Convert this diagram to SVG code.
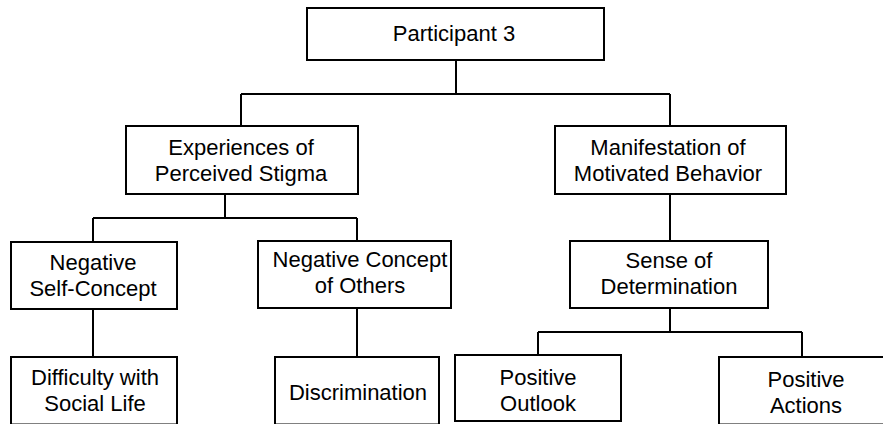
<svg xmlns="http://www.w3.org/2000/svg" width="883" height="424" viewBox="0 0 883 424">
  <style>
    .box { fill: #ffffff; stroke: #000000; stroke-width: 2; }
    .link { fill: none; stroke: #000000; stroke-width: 2; }
    text { font-family: "Liberation Sans", Arial, sans-serif; font-size: 22px; fill: #000000; text-anchor: middle; }
  </style>
  <rect width="883" height="424" fill="#ffffff"/>

  <g id="connectors">
    <path class="link" d="M456,60 V94 M241,94 H670 M241,94 V126 M670,94 V126"/>
    <path class="link" d="M225,194 V218 M93,218 H357 M93,218 V242 M357,218 V241"/>
    <path class="link" d="M93,309 V357 M357,308 V357"/>
    <path class="link" d="M670,194 V241"/>
    <path class="link" d="M670,308 V332 M538,332 H802 M538,332 V355 M802,332 V357"/>
  </g>

  <g id="participant3">
    <rect class="box" x="307" y="8" width="297" height="52"/>
    <text x="454" y="41">Participant 3</text>
  </g>

  <g id="perceived-stigma">
    <rect class="box" x="126" y="126" width="232" height="68"/>
    <text x="241" y="155">Experiences of</text>
    <text x="241" y="181">Perceived Stigma</text>
  </g>

  <g id="motivated-behavior">
    <rect class="box" x="555" y="126" width="231" height="68"/>
    <text x="668" y="155">Manifestation of</text>
    <text x="668" y="181">Motivated Behavior</text>
  </g>

  <g id="negative-self-concept">
    <rect class="box" x="11" y="242" width="166" height="67"/>
    <text x="93" y="270">Negative</text>
    <text x="93" y="296">Self-Concept</text>
  </g>

  <g id="negative-concept-others">
    <rect class="box" x="258" y="241" width="193" height="67"/>
    <text x="360" y="267">Negative Concept</text>
    <text x="360" y="293">of Others</text>
  </g>

  <g id="sense-of-determination">
    <rect class="box" x="570" y="241" width="198" height="67"/>
    <text x="669" y="268">Sense of</text>
    <text x="669" y="294">Determination</text>
  </g>

  <g id="difficulty-social-life">
    <rect class="box" x="11" y="357" width="166" height="67.5"/>
    <text x="95" y="385">Difficulty with</text>
    <text x="95" y="411">Social Life</text>
  </g>

  <g id="discrimination">
    <rect class="box" x="275" y="357" width="164" height="67.5"/>
    <text x="358" y="400">Discrimination</text>
  </g>

  <g id="positive-outlook">
    <rect class="box" x="455" y="355" width="166" height="66"/>
    <text x="538" y="385">Positive</text>
    <text x="538" y="411">Outlook</text>
  </g>

  <g id="positive-actions">
    <rect class="box" x="719" y="357" width="170" height="67.5"/>
    <text x="806" y="387">Positive</text>
    <text x="806" y="413">Actions</text>
  </g>
</svg>
